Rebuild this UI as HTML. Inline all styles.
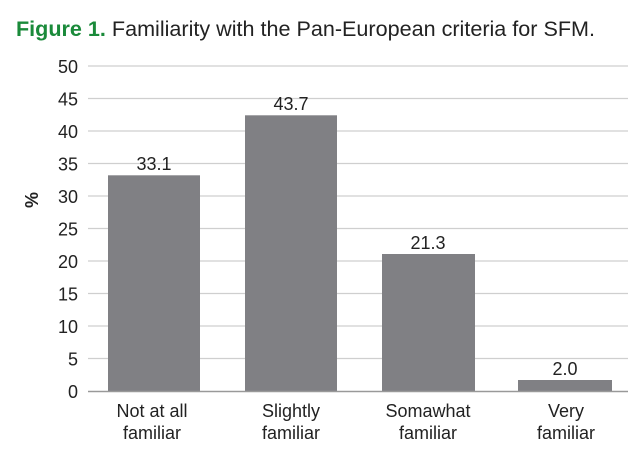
<!DOCTYPE html>
<html><head><style>
body{margin:0;background:#fff;width:642px;height:447px;overflow:hidden}
svg text{font-family:"Liberation Sans",sans-serif;fill:#222}
</style></head><body>
<svg width="642" height="447" viewBox="0 0 642 447">
<text x="16" y="36" font-size="21" textLength="579" lengthAdjust="spacingAndGlyphs"><tspan font-weight="bold" style="fill:#1a8a3a">Figure 1.</tspan> Familiarity with the Pan-European criteria for SFM.</text>
<g stroke="#cfcfcf" stroke-width="1.3">
<line x1="88" x2="628" y1="66" y2="66"/><line x1="88" x2="628" y1="98.5" y2="98.5"/>
<line x1="88" x2="628" y1="131" y2="131"/><line x1="88" x2="628" y1="163.5" y2="163.5"/>
<line x1="88" x2="628" y1="196" y2="196"/><line x1="88" x2="628" y1="228.5" y2="228.5"/>
<line x1="88" x2="628" y1="261" y2="261"/><line x1="88" x2="628" y1="293.5" y2="293.5"/>
<line x1="88" x2="628" y1="326" y2="326"/><line x1="88" x2="628" y1="358.5" y2="358.5"/>
</g>
<g fill="#808084">
<rect x="108" y="175.3" width="92" height="216"/>
<rect x="245" y="115.3" width="92" height="276"/>
<rect x="382" y="254" width="93" height="137.5"/>
<rect x="518" y="380" width="94" height="11.5"/>
</g>
<line x1="88" x2="628" y1="391.5" y2="391.5" stroke="#999" stroke-width="1.5"/>
<g font-size="18" text-anchor="end">
<text x="78" y="73">50</text><text x="78" y="105.5">45</text><text x="78" y="138">40</text>
<text x="78" y="170.5">35</text><text x="78" y="203">30</text><text x="78" y="235.5">25</text>
<text x="78" y="268">20</text><text x="78" y="300.5">15</text><text x="78" y="333">10</text>
<text x="78" y="365.5">5</text><text x="78" y="398">0</text>
</g>
<text transform="translate(38,200) rotate(-90)" font-size="18" font-weight="bold" text-anchor="middle">%</text>
<g font-size="18" text-anchor="middle">
<text x="154" y="170">33.1</text><text x="291" y="110">43.7</text>
<text x="428" y="249">21.3</text><text x="565" y="375">2.0</text>
<text x="152" y="417">Not at all</text><text x="152" y="439">familiar</text>
<text x="291" y="417">Slightly</text><text x="291" y="439">familiar</text>
<text x="428" y="417">Somawhat</text><text x="428" y="439">familiar</text>
<text x="566" y="417">Very</text><text x="566" y="439">familiar</text>
</g>
</svg>
</body></html>
